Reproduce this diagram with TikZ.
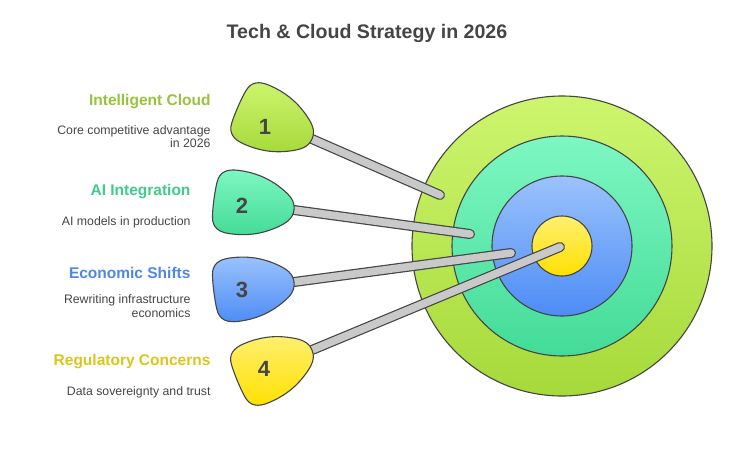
\documentclass[tikz,border=0pt]{standalone}
\usepackage{fontspec}
\setmainfont{Liberation Sans}
\definecolor{ink}{HTML}{454545}
\definecolor{stickfill}{HTML}{C9C9C9}
\definecolor{gTop}{HTML}{CDF56E}\definecolor{gBot}{HTML}{A6D93A}
\definecolor{tTop}{HTML}{7EF7C2}\definecolor{tBot}{HTML}{43DB97}
\definecolor{bTop}{HTML}{9BC2FC}\definecolor{bBot}{HTML}{4D8CF6}
\definecolor{yTop}{HTML}{FFF070}\definecolor{yBot}{HTML}{FFE000}
\definecolor{gText}{HTML}{97C33A}
\definecolor{tText}{HTML}{3FCB8A}
\definecolor{bText}{HTML}{4D88E8}
\definecolor{yText}{HTML}{DDC41B}
\begin{document}
\begin{tikzpicture}[x=1pt,y=-1pt,
  ring/.style={circle,draw=ink,line width=1.1pt,inner sep=0pt},
  pinshape/.style={draw=ink,line width=1.1pt},
  num/.style={font=\bfseries\fontsize{22}{22}\selectfont,text=ink},
  lab/.style={anchor=east,font=\bfseries\fontsize{15.5}{18}\selectfont},
  desc/.style={anchor=east,align=right,font=\fontsize{12.3}{13.6}\selectfont,text=ink},
  stickout/.style={line width=10pt,draw=ink,line cap=round},
  stickin/.style={line width=7.6pt,draw=stickfill,line cap=round}]
\useasboundingbox (0,0) rectangle (745,451);
\node[font=\bfseries\fontsize{19.6}{22}\selectfont,text=ink] (title) at (367,33) {Tech \& Cloud Strategy in 2026};
% target
\node[ring,minimum size=300pt,top color=gTop,bottom color=gBot] (r1) at (562,246) {};
\node[ring,minimum size=220pt,top color=tTop,bottom color=tBot] (r2) at (562,246) {};
\node[ring,minimum size=140pt,top color=bTop,bottom color=bBot] (r3) at (562,246) {};
\node[ring,minimum size=60pt,top color=yTop,bottom color=yBot] (r4) at (562,246) {};
% coordinates
\coordinate (t1) at (312,139);
\coordinate (t2) at (294,210);
\coordinate (t3) at (294,282);
\coordinate (t4) at (312,350);
\coordinate (h1) at (440,195);
\coordinate (h2) at (470,234);
\coordinate (h3) at (511,253);
\coordinate (h4) at (560,247);
% sticks
\foreach \i in {1,2,3,4}{
  \draw[stickout] (t\i) -- (h\i);
  \draw[stickin] (t\i) -- (h\i);
}
% pins
\def\pinpath{(0,0) .. controls (0,9) and (-6,14) .. (-14,19)
 .. controls (-30,29) and (-45,32) .. (-60,32)
 .. controls (-72,32) and (-79,28) .. (-80,17)
 .. controls (-81,8) and (-81,-8) .. (-80,-17)
 .. controls (-79,-28) and (-72,-32) .. (-60,-32)
 .. controls (-45,-32) and (-30,-29) .. (-14,-19)
 .. controls (-6,-14) and (0,-9) .. (0,0) -- cycle}
\begin{scope}[shift={(t1)},rotate=-23.7]
  \path[pinshape,top color=gTop,bottom color=gBot] \pinpath;
\end{scope}
\begin{scope}[shift={(t2)},rotate=-7.6]
  \path[pinshape,top color=tTop,bottom color=tBot] \pinpath;
\end{scope}
\begin{scope}[shift={(t3)},rotate=7.3]
  \path[pinshape,top color=bTop,bottom color=bBot] \pinpath;
\end{scope}
\begin{scope}[shift={(t4)},rotate=22.6]
  \path[pinshape,top color=yTop,bottom color=yBot] \pinpath;
\end{scope}
\node[num] (n1) at (265,127) {1};
\node[num] (n2) at (242,206) {2};
\node[num] (n3) at (242,290) {3};
\node[num] (n4) at (264,369) {4};
% labels
\node[lab,text=gText] (l1) at (214,102) {Intelligent Cloud};
\node[desc] (d1) at (214,136.5) {Core competitive advantage\\in 2026};
\node[lab,text=tText] (l2) at (194,192) {AI Integration};
\node[desc] (d2) at (194,222.5) {AI models in production};
\node[lab,text=bText] (l3) at (194,273) {Economic Shifts};
\node[desc] (d3) at (194,306) {Rewriting infrastructure\\economics};
\node[lab,text=yText] (l4) at (214,362) {Regulatory Concerns};
\node[desc] (d4) at (214,392.5) {Data sovereignty and trust};
\end{tikzpicture}
\end{document}
